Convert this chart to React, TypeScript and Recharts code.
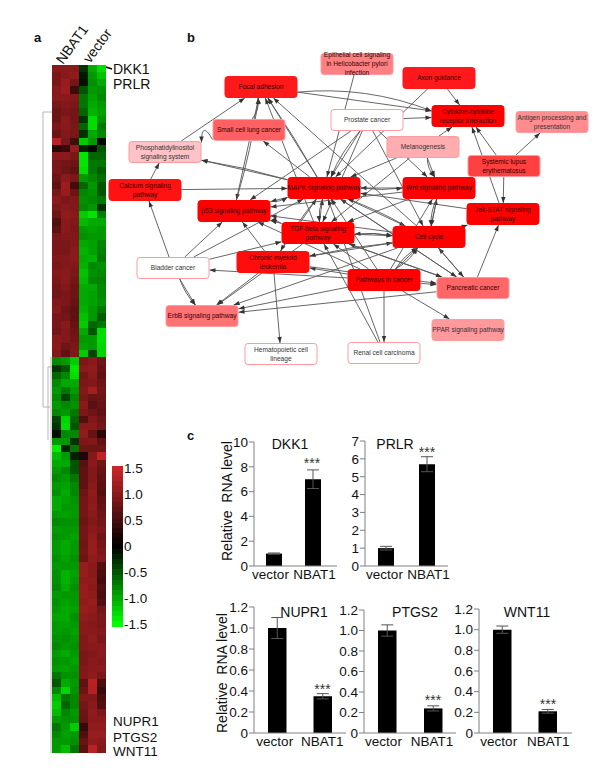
import React from "react";
import {
  BarChart, Bar, ErrorBar, XAxis, YAxis, ScatterChart, Scatter, ReferenceLine,
} from "recharts";

const FONT = "'Liberation Sans', Arial, sans-serif";

// ---- heatmap values (z-scores read by eye, one column per replicate, rows top to bottom)
const nbat1A = [1.0,.9,.9,1.0,1.0,.9,.8,.8,.9,.8,
1.35,.3,1.0,.9,.9,.8,.7,.9,1.0,.9,
.8,.6,.7,.9,.9,.9,.95,.9,.95,.9,
.85,.85,.95,1.0,.9,.9,.85,1.0,1.0,.95,
-.8,-.3,-.6,-.8,-.9,-.8,-.9,-.8,-.4,-.3,
-.1,-.9,-1.4,-1.1,-1.0,-.9,-.8,-.9,-.85,-1.0,
-1.0,-.9,-.8,-.9,-.85,-.9,-.9,-.85,-.9,-.85,
-.85,-.8,-.9,-.85,-.9,-.95,-.9,-.9,-.85,-.8,
-.9,-.85,-.9,-.7,-.5,-.8,-1.1,-1.2,-1.1,-.9,
-.7,-.8,-.9,-.9];
const nbat1B = [1.0,1.0,1.1,1.15,1.0,.95,.9,1.0,1.0,.95,
.9,.4,1.0,.85,.8,1.0,1.15,1.1,.9,1.0,
1.05,1.0,1.0,.95,.9,.9,.95,.95,1.0,1.0,
.95,.9,.9,.8,.85,1.0,.95,.95,.8,.7,
-.9,-.5,-.8,-1.0,-.7,-.4,-.8,-.9,-1.25,-1.3,
-.8,-.9,-.2,-.9,-1.0,-.8,-.9,-.95,-1.0,-.95,
-.9,-.95,-.85,-.9,-.9,-1.0,-1.0,-.95,-.9,-1.05,
-1.05,-1.0,-.9,-.95,-1.0,-1.0,-.95,-.9,-.85,-.9,
-1.0,-.9,-.95,-.85,-1.0,-1.25,-.7,-.6,-.8,-.85,
-.9,-.95,-.9,-1.1];
const nbat1C = [1.0,1.05,.85,.45,.95,.9,.85,.85,.9,.9,
.5,1.1,.9,.8,.7,.9,.5,.8,.95,.95,
1.0,.95,.9,.95,.95,1.0,1.0,.95,.9,.85,
.8,.8,.75,.7,.7,.75,.8,.85,.9,.95,
-1.2,-1.35,-1.3,-1.0,-.9,-.8,-.85,-.7,-.6,-.5,
-.8,-.3,-.7,-.2,-.5,-.5,-.7,-.8,-.8,-.85,
-.9,-.9,-.85,-.9,-.95,-.9,-.9,-.85,-.9,-.95,
-.9,-.85,-.9,-.9,-.95,-.85,-.9,-.95,-.9,-.85,
-.9,-.95,-.9,-.85,-.9,-.85,-.8,-.8,-.9,-.85,
-1.2,-.9,-.85,-.7];
const vectorA = [-.3,-.15,-.1,-.5,-.7,-.7,-.6,-.3,-.6,-.3,
-1.2,-.2,-1.35,-1.35,-1.3,-.9,-.6,-.8,-.85,-.8,
-1.2,-1.1,-.9,-.85,-1.0,-1.05,-1.0,-1.05,-1.15,-1.1,
-1.0,-1.0,-1.0,-1.05,-1.15,-1.2,-1.0,-.9,-.95,-1.2,
.9,1.0,.85,.9,.95,.9,1.0,.9,.6,1.0,
1.05,.9,.8,.25,.65,.7,.7,.7,.8,.85,
.85,.85,.8,.85,.85,.8,.85,.8,1.1,1.1,
1.05,1.1,1.1,1.05,1.1,1.05,1.0,1.0,.95,.95,
.9,.9,.95,.95,.7,.8,.95,.85,.8,.75,
.4,.6,.75,.65];
const vectorB = [-1.0,-.9,-.85,-.9,-.95,-1.0,-1.05,-1.3,-1.3,-1.0,
-.9,-.05,-.6,-.7,-.7,-.8,-.9,-.85,-.8,-.9,
-1.35,-1.0,-.95,-.9,-.95,-.95,-1.05,-.8,-.85,-.8,
-1.0,-.95,-.95,-.9,-.9,-.6,-.5,-.9,-.9,-.4,
1.0,1.05,1.0,.95,1.2,.75,.65,.8,.95,1.0,
.75,.95,.8,.95,1.0,.95,.95,1.0,1.05,1.0,
1.05,1.0,.95,1.0,1.05,1.1,1.1,1.05,1.0,1.0,
1.05,1.0,1.05,1.1,1.05,1.0,.95,1.0,1.05,1.0,
.95,1.0,1.0,1.05,1.35,1.3,.95,1.0,1.05,1.0,
1.05,1.1,1.05,1.35];
const vectorC = [-1.3,-1.15,-1.0,-.85,-.8,-.9,-.95,-.85,-.7,-.8,
-.05,-.5,-.6,-.7,-.55,-.65,-.5,-.5,-.7,-.3,
-.75,-1.0,-.9,-.9,-.8,-.75,-.7,-.85,-.8,-.75,
-.8,-.8,-.85,-.7,-.55,-.7,-1.3,-1.3,-1.25,-1.25,
.8,.75,.7,.8,.85,.8,.75,.7,.8,.85,
.3,.7,.8,1.4,.8,.75,.7,.65,.6,.7,
.75,.8,.85,.9,.8,.85,.9,.95,.6,.55,
.5,.6,.55,.6,.85,.9,.9,.95,.9,1.0,
1.0,.95,1.0,.9,.55,.4,.55,.6,.9,1.0,
1.05,1.1,1.0,.95];
const heatColumns = [nbat1A, nbat1B, nbat1C, vectorA, vectorB, vectorC];

const legendLevels = [1.5,1.4,1.3,1.2,1.1,1.0,.9,.8,.7,.6,.5,.4,.3,.2,.1,0,-.1,-.2,-.3,-.4,-.5,-.6,-.7,-.8,-.9,-1.0,-1.1,-1.2,-1.3,-1.4,-1.5];
const legendTicks = [1.5,1.0,.5,0,-.5,-1.0,-1.5];
const legendTickText = ["1.5","1.0","0.5","0","-0.5","-1.0","-1.5"];

// ---- network
const nodeKeys = ["focal","small","phos","calc","mapk","p53","epi","axon","cyto","prost","anti","mel","sle","wnt","jak","cc","tgf","cml","blad","erbb","hema","path","panc","ppar","renal"];
const nodeLabels = [
  "Focal adhesion","Small cell lung cancer","Phosphatidylinositol\nsignaling system","Calcium signaling\npathway",
  "MAPK signaling pathway","p53 signaling pathway","Epithelial cell signaling\nin Helicobacter pylori\ninfection","Axon guidance",
  "Cytokine-cytokine\nreceptor interaction","Prostate cancer","Antigen processing and\npresentation","Melanogenesis",
  "Systemic lupus\nerythematosus","Wnt signaling pathway","Jak-STAT signaling\npathway","Cell cycle",
  "TGF-beta signaling\npathway","Chronic myeloid\nleukemia","Bladder cancer","ErbB signaling pathway",
  "Hematopoietic cell\nlineage","Pathways in cancer","Pancreatic cancer","PPAR signaling pathway","Renal cell carcinoma",
];
const nodeX = [261,249,165,145,324,234,357,439,468,367,552,423,504,439,503,429,318,273,173,202,281,384,473,468,384];
const nodeY = [87,130,152,190,188,211,64,78,116,120,122,147,166,188,214,237,233,262,268,316,354,280,288,330,353];
const nodeScores = [.9,.62,.24,.93,1,1,.5,.9,1,0,.45,.32,.75,1,1,1,1,.95,0,.55,0,1,.6,.4,0];

const edgeList: [string,string,number?][] = [
  ["phos","focal"],["calc","phos"],["blad","calc"],["calc","mapk"],["small","phos",22],["mapk","phos"],["mapk","phos",3],
  ["mapk","small"],["mapk","focal"],["mapk","focal",2],["tgf","focal"],["cc","focal"],["focal","p53"],["p53","focal",4],["small","focal",5],
  ["focal","cyto",-16],["focal","cyto"],["epi","mapk"],["prost","mapk"],["prost","mapk",5],["prost","cyto"],["prost","p53"],["prost","tgf"],
  ["prost","cc"],["prost","wnt"],["axon","mapk"],["axon","cyto"],["mel","cyto"],["mel","wnt"],["mel","wnt",4],["mel","mapk"],["mel","tgf"],
  ["sle","cyto"],["jak","cyto"],["sle","jak"],["sle","anti"],["wnt","mapk"],["mapk","wnt",3],["jak","mapk"],["cc","jak"],["panc","jak"],
  ["cc","wnt"],["wnt","cc"],["wnt","cc",4],["wnt","tgf"],["wnt","p53"],["path","wnt"],["mapk","p53"],["p53","mapk",3],["tgf","mapk"],["mapk","tgf",3],
  ["mapk","cc"],["cc","mapk",3],["cml","mapk"],["mapk","cml",3],["path","mapk"],["path","tgf"],["path","cc"],["path","cc",4],["path","cc",-4],
  ["path","panc"],["path","ppar"],["path","renal"],["path","erbb"],["path","cml"],["path","p53"],["tgf","cc"],["cc","tgf",3],["tgf","cc",-3],
  ["tgf","p53"],["tgf","p53",3],["cml","p53"],["blad","p53"],["blad","mapk"],["blad","erbb"],["blad","erbb",3],["cml","erbb"],["tgf","erbb"],
  ["cc","erbb"],["panc","erbb"],["cml","hema"],["path","blad"],["blad","tgf"],["renal","mapk"],["renal","tgf"],["panc","cc"],["panc","mapk"],
  ["panc","tgf"],["cml","cc"],["cc","cml",3],["cc","p53"],["mapk","panc"],["tgf","panc"],["cml","panc"],["cc","panc"],
];

const dendroSegments = [
  [43,112,43,407],[43,112,52,112],[43,407,50,407],[48,367,48,440],[48,367,52,367],[51,357,51,753],
];

// ---- qPCR panels
const groups = ["vector","NBAT1"];
const dkk1Values = [1,7]; const dkk1Errors = [.05,.75];
const prlrValues = [1,5.7]; const prlrErrors = [.1,.42];
const nupr1Values = [1,.35]; const nupr1Errors = [.1,.025];
const ptgs2Values = [1,.24]; const ptgs2Errors = [.055,.025];
const wnt11Values = [1,.21]; const wnt11Errors = [.035,.018];
const ticks10 = [0,2,4,6,8,10];
const ticks7 = [0,1,2,3,4,5,6,7];
const ticks12 = [0,.2,.4,.6,.8,1.0,1.2];
const fmt12 = (v:number)=> v===0 ? "0" : v.toFixed(1);

function heatColor(v:number){
  const t = Math.min(1,Math.abs(v)/1.5);
  return v>=0
    ? `rgb(${Math.round(205*t)},${Math.round(38*t)},${Math.round(40*t)})`
    : `rgb(0,${Math.round(255*t)},0)`;
}

const rowCount = nbat1A.length;
const heatCells = heatColumns.flatMap((col,c)=>col.map((v,r)=>({col:c+.5,row:r+.5,v})));
const HEAT_W=54, HEAT_H=688;
const HeatCell = (p:any)=>{
  const y0=Math.floor(p.cy-HEAT_H/rowCount/2), y1=Math.ceil(p.cy+HEAT_H/rowCount/2);
  return <rect x={p.cx-HEAT_W/12} y={y0} width={HEAT_W/6} height={y1-y0} fill={heatColor(p.payload.v)} shapeRendering="crispEdges"/>;
};

function Heatmap(){
  return (
    <div style={{position:"absolute",left:52,top:65}}>
      <ScatterChart width={HEAT_W} height={HEAT_H} margin={{top:0,right:0,bottom:0,left:0}}>
        <XAxis type="number" dataKey="col" domain={[0,6]} hide/>
        <YAxis type="number" dataKey="row" domain={[0,rowCount]} reversed hide/>
        <Scatter data={heatCells} isAnimationActive={false} shape={HeatCell}/>
      </ScatterChart>
    </div>
  );
}

const legendData = legendLevels.map(v=>({x:.5,v}));
const LegendCell = (p:any)=>(<rect x={p.cx-5.5} y={p.cy-3} width={11} height={6} fill={heatColor(p.payload.v)} shapeRendering="crispEdges"/>);
function ColorLegend(){
  return (
    <div style={{position:"absolute",left:112,top:456}}>
      <ScatterChart width={60} height={181} margin={{top:10,right:0,bottom:10,left:0}}>
        <XAxis type="number" dataKey="x" domain={[0,1]} hide/>
        <YAxis type="number" dataKey="v" domain={[-1.55,1.55]} orientation="right" width={49} ticks={legendTicks}
          interval={0} axisLine={false} tickLine={false} tickSize={0} tickMargin={1}
          tick={{fontSize:13.5,fontFamily:FONT,fill:"#111"}}
          tickFormatter={(v:number)=>legendTickText[legendTicks.indexOf(v)]}/>
        <Scatter data={legendData} isAnimationActive={false} shape={LegendCell}/>
      </ScatterChart>
    </div>
  );
}

function nodeFill(s:number){
  const g = Math.round(255*(1-s));
  return `rgb(255,${g},${Math.round(g*1.02>255?255:g*1.02)})`;
}
const NW=72, NH=21;
const nodeData = nodeKeys.map((k,i)=>({x:nodeX[i],y:nodeY[i],score:nodeScores[i],label:nodeLabels[i]}));
const NodeShape = (p:any)=>{
  const d=p.payload; const lines:string[]=d.label.split("\n");
  const cy=p.cy, cx=p.cx;
  return (
    <g>
      <rect x={cx-NW/2} y={cy-NH/2} width={NW} height={NH} rx={3} fill={nodeFill(d.score)} stroke={d.score>=.9?nodeFill(d.score):"#ff9a9f"} strokeWidth={1}/>
      {lines.map((l,i)=>(
        <text key={i} x={cx} y={cy+2.3+(i-(lines.length-1)/2)*9} textAnchor="middle" fontSize={6.6} fontFamily={FONT} fill={d.score>=.5?"#300":"#333"}>{l}</text>
      ))}
    </g>
  );
};
const NoShape = ()=> <g/>;

function clip(cx:number,cy:number,ox:number,oy:number){
  const dx=ox-cx, dy=oy-cy;
  const k=Math.min(dx?(NW/2+.5)/Math.abs(dx):1e9, dy?(NH/2+.5)/Math.abs(dy):1e9);
  return {x:cx+dx*k,y:cy+dy*k};
}
const edgeSegments = edgeList.map(([a,b,bend])=>{
  const i=nodeKeys.indexOf(a), j=nodeKeys.indexOf(b);
  const s=clip(nodeX[i],nodeY[i],nodeX[j],nodeY[j]);
  const t=clip(nodeX[j],nodeY[j],nodeX[i],nodeY[i]);
  return {s,t,bend:bend||0};
});
const EdgeShape = (p:any)=>{
  const {x1,y1,x2,y2,bend}=p;
  const dx=x2-x1, dy=y2-y1, L=Math.hypot(dx,dy)||1;
  const mx=(x1+x2)/2-dy/L*bend, my=(y1+y2)/2+dx/L*bend;
  const adx=x2-mx, ady=y2-my, A=Math.hypot(adx,ady)||1;
  const ux=adx/A, uy=ady/A;
  const bx=x2-ux*6, by=y2-uy*6;
  return (
    <g>
      <path d={`M${x1},${y1} Q${mx},${my} ${x2},${y2}`} fill="none" stroke="#555" strokeWidth={.9}/>
      <polygon points={`${x2},${y2} ${bx-uy*2.2},${by+ux*2.2} ${bx+uy*2.2},${by-ux*2.2}`} fill="#333"/>
    </g>
  );
};
const GrayLine = (p:any)=>(<line x1={p.x1} y1={p.y1} x2={p.x2} y2={p.y2} stroke="#b5b5b5" strokeWidth={1}/>);

function Network(){
  return (
    <div style={{position:"absolute",left:0,top:0}}>
      <ScatterChart width={600} height={768} margin={{top:0,right:0,bottom:0,left:0}}>
        <XAxis type="number" dataKey="x" domain={[0,600]} hide/>
        <YAxis type="number" dataKey="y" domain={[0,768]} reversed hide/>
        <Scatter data={nodeData} isAnimationActive={false} shape={NoShape}/>
        {dendroSegments.map((d,i)=>(
          <ReferenceLine key={"d"+i} segment={[{x:d[0],y:d[1]},{x:d[2],y:d[3]}]} ifOverflow="visible" shape={GrayLine}/>
        ))}
        {edgeSegments.map((e,i)=>(
          <ReferenceLine key={i} segment={[{x:e.s.x,y:e.s.y},{x:e.t.x,y:e.t.y}]} ifOverflow="visible"
            shape={(p:any)=><EdgeShape {...p} bend={e.bend}/>}/>
        ))}
      </ScatterChart>
      <div style={{position:"absolute",left:0,top:0}}>
        <ScatterChart width={600} height={768} margin={{top:0,right:0,bottom:0,left:0}}>
          <XAxis type="number" dataKey="x" domain={[0,600]} hide/>
          <YAxis type="number" dataKey="y" domain={[0,768]} reversed hide/>
          <Scatter data={nodeData} isAnimationActive={false} shape={NodeShape}/>
        </ScatterChart>
      </div>
    </div>
  );
}

const groupTick = (offsets:number[]) => (p:any)=>(
  <text x={p.x+offsets[p.index]} y={p.y+5.5} textAnchor="middle" fontSize={13.5} fontFamily={FONT} fill="#111">{p.payload.value}</text>
);

function MiniBar({axisX,rightX,topY,zeroY,max,ticks,values,errors,padRight,barW,fmt,labelOffsets}:any){
  const YW=45, TOP=8;
  const data = groups.map((g,i)=>({name:g,value:values[i],err:errors[i]}));
  return (
    <div style={{position:"absolute",left:axisX-YW,top:topY-TOP}}>
      <BarChart width={rightX-axisX+YW+12} height={zeroY-topY+TOP+24} data={data}
        margin={{top:TOP,right:12,bottom:0,left:0}}>
        <XAxis dataKey="name" interval={0} height={24} tickLine={false} stroke="#808080" minTickGap={0}
          padding={{left:0,right:padRight}} tickMargin={1} tick={groupTick(labelOffsets)}/>
        <YAxis type="number" domain={[0,max]} ticks={ticks} interval={0} width={YW} stroke="#808080" tickSize={5} tickMargin={1}
          tick={{fontSize:13.5,fontFamily:FONT,fill:"#111"}} tickFormatter={fmt}/>
        <Bar dataKey="value" fill="#000" barSize={barW} isAnimationActive={false}>
          <ErrorBar dataKey="err" width={6} stroke="#555" strokeWidth={1} isAnimationActive={false}/>
        </Bar>
      </BarChart>
    </div>
  );
}

const T = ({x,y,size=14,bold,anchor="start",rot,fill="#111",children}:any)=>(
  <text x={x} y={y} fontSize={size} fontWeight={bold?"bold":"normal"} textAnchor={anchor} fontFamily={FONT} fill={fill}
    style={{whiteSpace:"pre"}} transform={rot!==undefined?`rotate(${rot} ${x} ${y})`:undefined}>{children}</text>
);

function Overlay(){
  return (
    <svg width={600} height={768} style={{position:"absolute",left:0,top:0,pointerEvents:"none"}}>
      <T x={34} y={42} size={13} bold>a</T>
      <T x={187} y={42} size={13} bold>b</T>
      <T x={187} y={440} size={13} bold>c</T>
      <T x={63} y={65} size={14} rot={-54}>NBAT1</T>
      <T x={90} y={64} size={14} rot={-54}>vector</T>
      <line x1={106} y1={67} x2={112} y2={69} stroke="#000" strokeWidth={1.5}/>
      <T x={113} y={74} size={14}>DKK1</T>
      <T x={113} y={89} size={14}>PRLR</T>
      <T x={113} y={726} size={13.5}>NUPR1</T>
      <T x={113} y={742} size={13.5}>PTGS2</T>
      <T x={113} y={756} size={13.5}>WNT11</T>

      <T x={232} y={561} rot={-90}>{"Relative  RNA level"}</T>
      <T x={227} y={733} rot={-90}>{"Relative  RNA level"}</T>

      <T x={290} y={449} anchor="middle">DKK1</T>
      <T x={395} y={449} anchor="middle">PRLR</T>
      <T x={304} y={617} anchor="middle">NUPR1</T>
      <T x={415} y={617} anchor="middle">PTGS2</T>
      <T x={527} y={617} anchor="middle">WNT11</T>

      <T x={312} y={468} anchor="middle" fill="#333">***</T>
      <T x={427} y={457} anchor="middle" fill="#333">***</T>
      <T x={322.5} y={694} anchor="middle" fill="#333">***</T>
      <T x={433} y={705} anchor="middle" fill="#333">***</T>
      <T x={548} y={709} anchor="middle" fill="#333">***</T>
    </svg>
  );
}

export default function App(){
  return (
    <div style={{position:"absolute",left:0,top:0,width:600,height:768,background:"#fff",overflow:"hidden"}}>
      <Heatmap/>
      <ColorLegend/>
      <Network/>
      <MiniBar axisX={254} rightX={337} topY={442} zeroY={566} max={10} ticks={ticks10} values={dkk1Values} errors={dkk1Errors} padRight={5} barW={16} labelOffsets={[-3,2]}/>
      <MiniBar axisX={365} rightX={448} topY={441} zeroY={566} max={7} ticks={ticks7} values={prlrValues} errors={prlrErrors} padRight={1} barW={16} labelOffsets={[-1,2]}/>
      <MiniBar axisX={254} rightX={346} topY={607} zeroY={733} max={1.2} ticks={ticks12} values={nupr1Values} errors={nupr1Errors} padRight={1} barW={18.5} fmt={fmt12} labelOffsets={[-2,0]}/>
      <MiniBar axisX={364} rightX={456} topY={610} zeroY={733} max={1.2} ticks={ticks12} values={ptgs2Values} errors={ptgs2Errors} padRight={0} barW={18.5} fmt={fmt12} labelOffsets={[-3.5,-1]}/>
      <MiniBar axisX={479} rightX={572} topY={609} zeroY={733} max={1.2} ticks={ticks12} values={wnt11Values} errors={wnt11Errors} padRight={2} barW={18.5} fmt={fmt12} labelOffsets={[-3,1]}/>
      <Overlay/>
    </div>
  );
}
